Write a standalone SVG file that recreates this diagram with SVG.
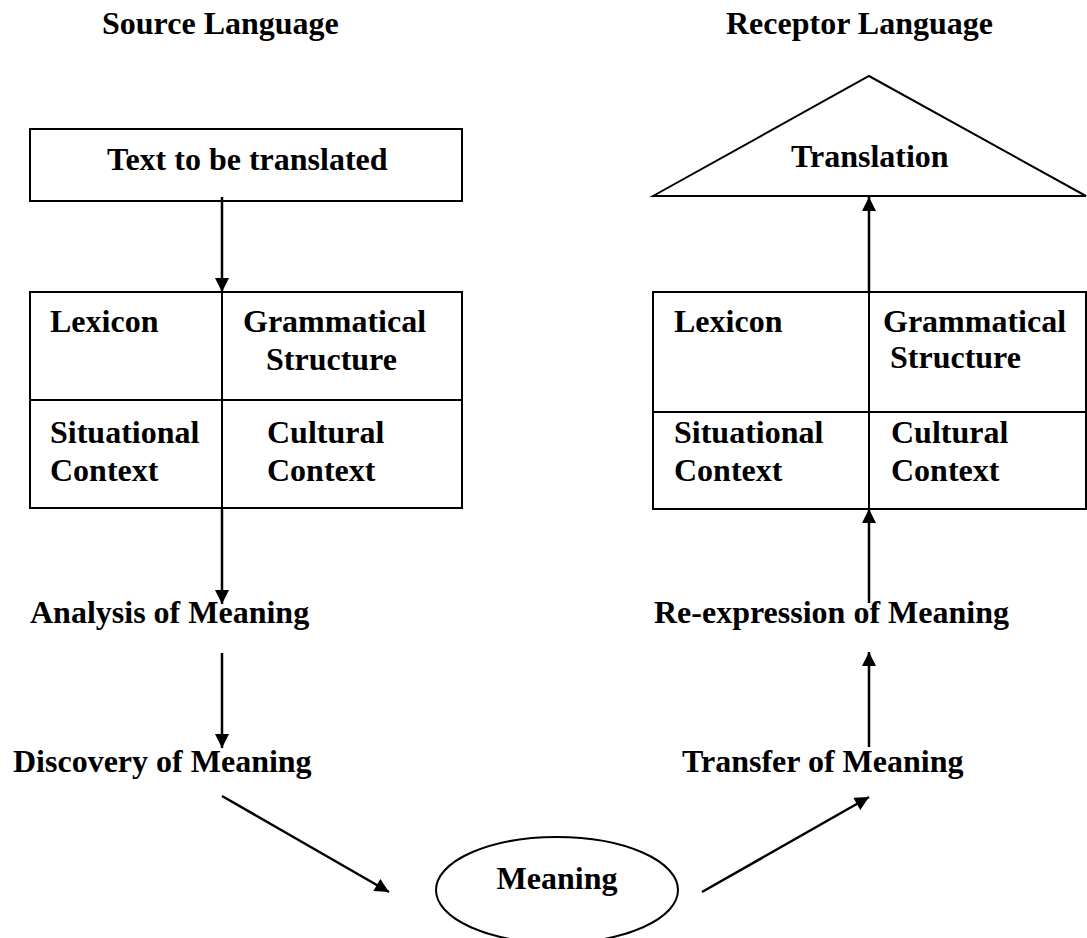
<svg xmlns="http://www.w3.org/2000/svg" width="1087" height="938" viewBox="0 0 1087 938">
<defs>
<style>
text{font-family:"Liberation Serif","Times New Roman",serif;font-weight:bold;font-size:32px;fill:#000}
.box{fill:none;stroke:#000;stroke-width:2}
.arr{stroke:#000;stroke-width:2.5;fill:none;marker-end:url(#ah)}
</style>
<marker id="ah" viewBox="0 0 10 10" refX="10" refY="5" markerUnits="userSpaceOnUse" markerWidth="15" markerHeight="14" orient="auto">
<path d="M0,0 L10,5 L0,10 z" fill="#000"/>
</marker>
</defs>
<rect width="1087" height="938" fill="#fff"/>
<g id="title-source"><text x="102" y="34">Source Language</text></g>
<g id="title-receptor"><text x="726" y="34">Receptor Language</text></g>
<g id="text-box">
<rect class="box" x="30" y="129" width="432" height="72"/>
<text x="107" y="170">Text to be translated</text>
</g>
<g id="source-grid">
<rect class="box" x="30" y="292" width="432" height="216"/>
<line class="box" x1="30" y1="400" x2="462" y2="400"/>
<line class="box" x1="222" y1="292" x2="222" y2="508"/>
<text x="50" y="332">Lexicon</text>
<text x="243" y="332">Grammatical</text>
<text x="266" y="370">Structure</text>
<text x="50" y="443">Situational</text>
<text x="50" y="481">Context</text>
<text x="267" y="443">Cultural</text>
<text x="267" y="481">Context</text>
</g>
<g id="analysis"><text x="30" y="623">Analysis of Meaning</text></g>
<g id="discovery"><text x="13" y="772">Discovery of Meaning</text></g>
<g id="meaning">
<ellipse class="box" cx="557" cy="890" rx="121" ry="53"/>
<text x="557" y="889" text-anchor="middle">Meaning</text>
</g>
<g id="transfer"><text x="682" y="772">Transfer of Meaning</text></g>
<g id="reexpression"><text x="654" y="623">Re-expression of Meaning</text></g>
<g id="receptor-grid">
<rect class="box" x="653" y="292" width="433" height="217"/>
<line class="box" x1="653" y1="412" x2="1086" y2="412"/>
<line class="box" x1="869" y1="292" x2="869" y2="509"/>
<text x="674" y="332">Lexicon</text>
<text x="883" y="332">Grammatical</text>
<text x="890" y="368">Structure</text>
<text x="674" y="443">Situational</text>
<text x="674" y="481">Context</text>
<text x="891" y="443">Cultural</text>
<text x="891" y="481">Context</text>
</g>
<g id="translation">
<polygon class="box" points="653,196 869,76 1086,196"/>
<text x="791" y="167">Translation</text>
</g>
<g id="connectors">
<line class="arr" x1="222" y1="197" x2="222" y2="292"/>
<line class="arr" x1="222" y1="508" x2="222" y2="604"/>
<line class="arr" x1="222" y1="653" x2="222" y2="748"/>
<line class="arr" x1="222" y1="796" x2="389" y2="892"/>
<line class="arr" x1="702" y1="892" x2="869" y2="797"/>
<line class="arr" x1="869" y1="747" x2="869" y2="652"/>
<line class="arr" x1="869" y1="603" x2="869" y2="509"/>
<line class="arr" x1="869" y1="292" x2="869" y2="197"/>
</g>
</svg>
